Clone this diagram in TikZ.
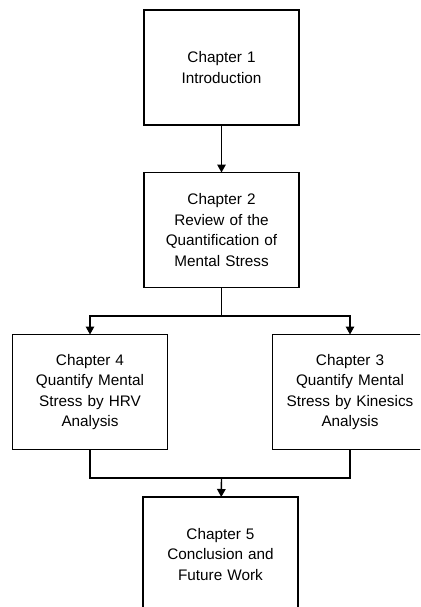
\documentclass[tikz,border=0pt]{standalone}
\usepackage{fontspec}
\setmainfont{Liberation Sans}
\usetikzlibrary{arrows.meta}
\begin{document}
\begin{tikzpicture}[x=1pt,y=-1pt,
  box/.style={draw=black, line width=1.4pt, minimum width=155pt, minimum height=115pt,
    inner sep=0pt, outer sep=0pt, align=center, text width=150pt,
    font=\fontsize{15.3}{20.5}\selectfont},
  conn/.style={line width=1.4pt},
  arr/.style={conn, -{Triangle[length=8pt,width=8.5pt]}}]
\useasboundingbox (0,0) rectangle (420,607);
\clip (0,0) rectangle (420,607);
\node[box] (b1) at (221.5,67.5) {Chapter 1\\Introduction};
\node[box] (b2) at (221.5,230) {Chapter 2\\Review of the\\Quantification of\\Mental Stress};
\node[box] (b4) at (90,392) {Chapter 4\\Quantify Mental\\Stress by HRV\\Analysis};
\node[box] (b3) at (350,392) {Chapter 3\\Quantify Mental\\Stress by Kinesics\\Analysis};
\node[box] (b5) at (220.5,554.5) {Chapter 5\\Conclusion and\\Future Work};
\coordinate (j1) at (221.5,316);
\coordinate (j2) at (221.5,478);
\draw[arr] (b1) -- (b2);
\draw[conn] (b2) -- (j1);
\draw[arr] (j1) -| (b4);
\draw[arr] (j1) -| (b3);
\draw[conn] (b4) |- (j2);
\draw[conn] (b3) |- (j2);
\draw[arr] (j2) -- (b5);
\end{tikzpicture}
\end{document}
